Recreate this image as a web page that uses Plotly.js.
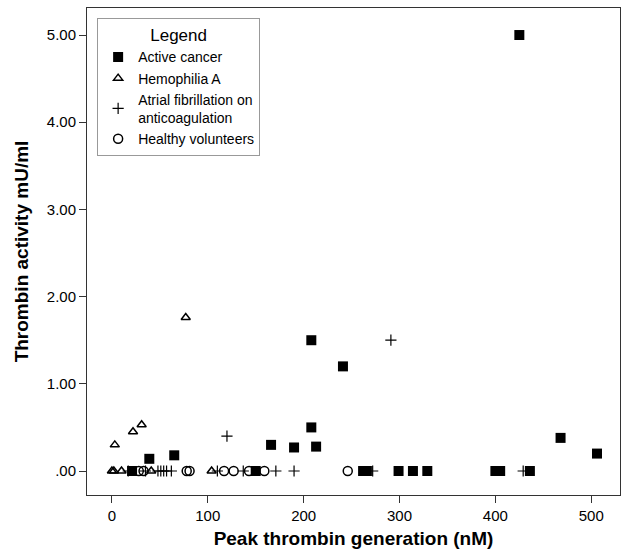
<!DOCTYPE html>
<html>
<head>
<meta charset="utf-8">
<script src="https://cdn.plot.ly/plotly-3.0.1.min.js"></script>
<style>html,body{margin:0;padding:0;background:#fff;}#chart{width:625px;height:557px;}</style>
</head>
<body>
<div id="chart"></div>
<script>
// ---- data ----
const seriesNames = ["Active cancer", "Hemophilia A", "Atrial fibrillation on<br>anticoagulation", "Healthy volunteers"];

const cancerX = [425, 208, 241, 208, 166, 190, 213, 65, 39, 468, 506, 21, 150, 262, 266, 299, 314, 329, 400, 405, 436];
const cancerY = [5.00, 1.50, 1.20, 0.50, 0.30, 0.27, 0.28, 0.18, 0.14, 0.38, 0.20, 0, 0, 0, 0, 0, 0, 0, 0, 0, 0];

const hemoX = [77, 31, 22, 3, 0, 2, 10, 41, 104];
const hemoY = [1.76, 0.53, 0.45, 0.30, 0, 0, 0, 0, 0];

const afibX = [291, 120, 17, 35, 48, 51, 54, 57, 62, 110, 137, 171, 190, 272, 429];
const afibY = [1.50, 0.40, 0, 0, 0, 0, 0, 0, 0, 0, 0, 0, 0, 0, 0];

const healthyX = [28, 33, 78, 81, 117, 127, 143, 159, 246];
const healthyY = [0, 0, 0, 0, 0, 0, 0, 0, 0];

const xTickVals = [0, 100, 200, 300, 400, 500];
const yTickVals = [0, 1, 2, 3, 4, 5];
const yTickText = [".00", "1.00", "2.00", "3.00", "4.00", "5.00"];

// ---- chart ----
const font = "Arial, 'Liberation Sans', sans-serif";
const traces = [
  {x: cancerX, y: cancerY, name: seriesNames[0], type: "scatter", mode: "markers",
   marker: {symbol: "square", size: 10, color: "#000"}},
  {x: hemoX, y: hemoY, name: seriesNames[1], type: "scatter", mode: "markers",
   marker: {symbol: "triangle-up-open", size: 8, color: "#000", line: {width: 1.5, color: "#000"}}},
  {x: afibX, y: afibY, name: seriesNames[2], type: "scatter", mode: "markers",
   marker: {symbol: "cross-thin-open", size: 8, color: "#000", line: {width: 1.2, color: "#000"}}},
  {x: healthyX, y: healthyY, name: seriesNames[3], type: "scatter", mode: "markers",
   marker: {symbol: "circle-open", size: 9, color: "#000", line: {width: 1.5, color: "#000"}}}
];

const layout = {
  width: 625, height: 557,
  margin: {l: 87, r: 5, t: 8, b: 62},
  paper_bgcolor: "#fff", plot_bgcolor: "#fff",
  font: {family: font, color: "#000", size: 15},
  showlegend: true,
  legend: {
    x: 0.019, y: 0.979, xanchor: "left", yanchor: "top",
    bgcolor: "#fff", bordercolor: "#999", borderwidth: 1,
    font: {family: font, size: 14, color: "#000"},
    title: {text: "Legend", side: "top center", font: {family: font, size: 17}},
    itemwidth: 30, tracegroupgap: 2
  },
  xaxis: {
    range: [-26, 530], tickvals: xTickVals, ticks: "outside", ticklen: 7, tickcolor: "#333",
    showline: true, linecolor: "#333", linewidth: 1, mirror: true, showgrid: false, zeroline: false,
    tickfont: {family: font, size: 15},
    title: {text: "<b>Peak thrombin generation (nM)</b>", font: {family: font, size: 19}, standoff: 8}
  },
  yaxis: {
    range: [-0.275, 5.31], tickvals: yTickVals, ticktext: yTickText, ticks: "outside", ticklen: 7, tickcolor: "#333",
    showline: true, linecolor: "#333", linewidth: 1, mirror: true, showgrid: false, zeroline: false,
    tickfont: {family: font, size: 15},
    title: {text: "<b>Thrombin activity mU/ml</b>", font: {family: font, size: 19}, standoff: 13}
  }
};

Plotly.newPlot("chart", traces, layout, {displayModeBar: false, staticPlot: true});
</script>
</body>
</html>
